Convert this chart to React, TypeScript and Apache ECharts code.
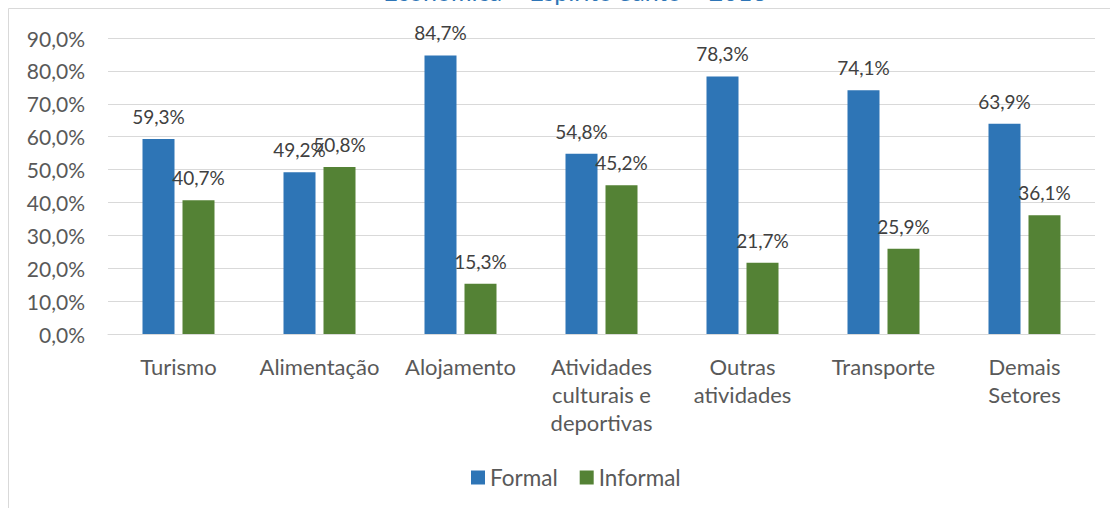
import React, { useEffect, useRef } from "react";
import * as echarts from "echarts";

const categories = [
  "Turismo",
  "Alimentação",
  "Alojamento",
  "Atividades\nculturais e\ndeportivas",
  "Outras\natividades",
  "Transporte",
  "Demais\nSetores",
];
const formal = [59.3, 49.2, 84.7, 54.8, 78.3, 74.1, 63.9];
const informal = [40.7, 50.8, 15.3, 45.2, 21.7, 25.9, 36.1];
const seriesNames = ["Formal", "Informal"];
const titleText = "Econômica – Espírito Santo – 2018";

const FONT = "Lato";
const fmt = (v: number) => v.toFixed(1).replace(".", ",") + "%";

export default function App() {
  const ref = useRef<HTMLDivElement>(null);
  useEffect(() => {
    document.body.style.margin = "0";
    const chart = echarts.init(ref.current!, undefined, { renderer: "svg" });
    const label = {
      show: true,
      position: "top",
      distance: 13,
      fontSize: 19,
      color: "#404040",
      formatter: (p: any) => fmt(p.value),
      fontFamily: FONT,
    };
    chart.setOption({
      animation: false,
      backgroundColor: "#ffffff",
      textStyle: { fontFamily: FONT },
      graphic: [
        {
          type: "rect",
          shape: { x: 8.5, y: 8.5, width: 1300, height: 700 },
          style: { fill: "none", stroke: "#D9D9D9", lineWidth: 1 },
          silent: true,
        },
        {
          type: "text",
          x: 575,
          y: 3,
          style: {
            text: titleText,
            fill: "#2E75B6",
            font: `25px ${FONT}`,
            textAlign: "center",
            textVerticalAlign: "bottom",
          },
        },
      ],
      grid: { left: 108, right: 15, top: 38, bottom: 174, containLabel: false },
      legend: {
        data: seriesNames,
        top: 461,
        left: 466,
        itemWidth: 14,
        itemHeight: 14,
        itemGap: 22,
        icon: "rect",
        textStyle: { fontSize: 22.5, color: "#595959", fontFamily: FONT },
      },
      xAxis: {
        type: "category",
        data: categories,
        axisLine: { lineStyle: { color: "#D9D9D9" } },
        axisTick: { show: false },
        axisLabel: {
          fontSize: 22,
          color: "#595959",
          margin: 18,
          lineHeight: 28,
          interval: 0,
          fontFamily: FONT,
        },
      },
      yAxis: {
        type: "value",
        min: 0,
        max: 90,
        interval: 10,
        axisLine: { show: false },
        axisTick: { show: false },
        splitLine: { lineStyle: { color: "#D9D9D9" } },
        axisLabel: {
          fontSize: 21,
          color: "#595959",
          margin: 23,
          formatter: (v: number) => fmt(v),
          fontFamily: FONT,
        },
      },
      series: [
        {
          name: seriesNames[0],
          type: "bar",
          data: formal,
          barWidth: 32,
          barGap: "25%",
          itemStyle: { color: "#2E75B6" },
          label,
        },
        {
          name: seriesNames[1],
          type: "bar",
          data: informal,
          barWidth: 32,
          barGap: "25%",
          itemStyle: { color: "#548235" },
          label,
        },
      ],
    });
    return () => chart.dispose();
  }, []);
  return <div ref={ref} style={{ width: 1110, height: 508 }} />;
}
